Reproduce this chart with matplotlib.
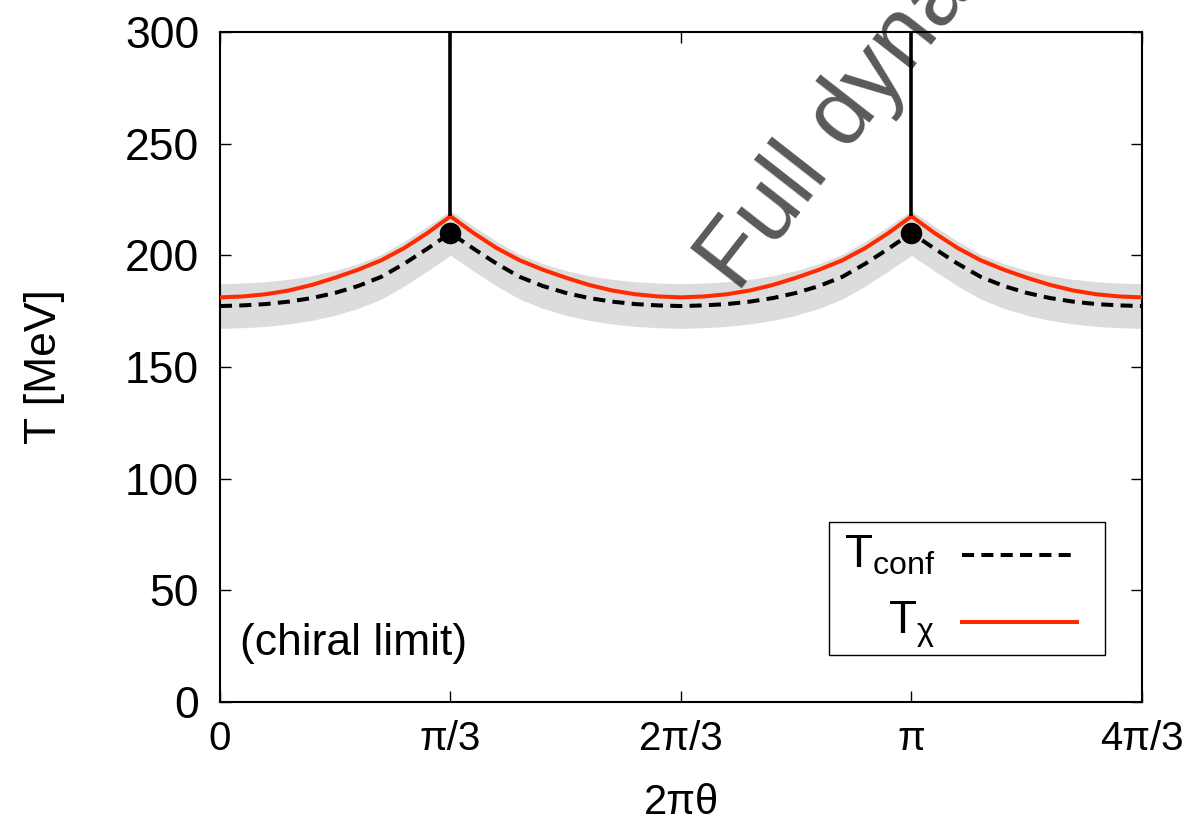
import numpy as np
import matplotlib
matplotlib.use("Agg")
import matplotlib.pyplot as plt
from matplotlib.patches import Rectangle
from matplotlib.lines import Line2D

plt.rcParams['font.family'] = ['Liberation Sans', 'DejaVu Sans']
plt.rcParams['mathtext.fontset'] = 'custom'
plt.rcParams['mathtext.rm'] = 'Liberation Sans'
plt.rcParams['mathtext.it'] = 'Liberation Sans:italic'

# x grid in units of pi/3 (0 .. 4)
x_units = np.round(np.arange(0, 4.0001, 0.1), 2)

# T_conf (dashed)
T_conf = [177.3, 177.6, 178.2, 179.3, 180.9, 183.2, 186.3, 190.4, 196.3, 203.0, 210.0,
          203.0, 196.3, 190.4, 186.3, 183.2, 180.9, 179.3, 178.2, 177.6, 177.3,
          177.6, 178.2, 179.3, 180.9, 183.2, 186.3, 190.4, 196.3, 203.0, 210.0,
          203.0, 196.3, 190.4, 186.3, 183.2, 180.9, 179.3, 178.2, 177.6, 177.3]
T_conf_err = 10.0

# T_chi (red solid)
T_chi = [181.2, 181.6, 182.6, 184.3, 186.8, 190.0, 193.6, 197.8, 203.3, 210.0, 217.5,
         210.0, 203.3, 197.8, 193.6, 190.0, 186.8, 184.3, 182.6, 181.6, 181.2,
         181.6, 182.6, 184.3, 186.8, 190.0, 193.6, 197.8, 203.3, 210.0, 217.5,
         210.0, 203.3, 197.8, 193.6, 190.0, 186.8, 184.3, 182.6, 181.6, 181.2]

# critical points (dots) and vertical lines
crit_units = [1, 3]
crit_T = [210.0, 210.0]
vline_bottom = [217.5, 217.5]

xtick_units = [0, 1, 2, 3, 4]
xtick_labels = ['0', 'π/3', '2π/3', 'π', '4π/3']
yticks = [0, 50, 100, 150, 200, 250, 300]

x = x_units * np.pi / 3
conf = np.array(T_conf)

fig = plt.figure(figsize=(11.87, 8.30), dpi=100)
ax = fig.add_axes([0.1853, 0.1542, 0.9621 - 0.1853, 0.9614 - 0.1542])

ax.fill_between(x, conf - T_conf_err, conf + T_conf_err, color='#dcdcdc', lw=0, zorder=1)
ax.plot(x, T_conf, color='black', lw=2.9, linestyle=(0, (3.0, 1.8)), zorder=2)
ax.plot(x, T_chi, color='#ff2a00', lw=2.9, zorder=3)
cx = np.array(crit_units) * np.pi / 3
ax.vlines(cx, vline_bottom, 300, color='black', lw=2.6, zorder=4)
ax.plot(cx, crit_T, 'o', color='black', ms=14.5, zorder=5)

ax.set_xlim(0, 4 * np.pi / 3)
ax.set_ylim(0, 300)
ax.set_xticks(np.array(xtick_units) * np.pi / 3)
ax.set_xticklabels(xtick_labels, fontsize=29)
ax.set_yticks(yticks)
ax.set_yticklabels([str(v) for v in yticks], fontsize=32)
ax.tick_params(direction='in', length=8, width=1.0, top=True, right=True)
ax.tick_params(axis='x', pad=13)
ax.tick_params(axis='y', pad=15)
for s in ax.spines.values():
    s.set_linewidth(1.5)

ax.set_xlabel('2πθ', fontsize=30)
ax.xaxis.set_label_coords(0.5, -0.151)
ax.xaxis.label.set_verticalalignment('center')
ax.set_ylabel('T [MeV]', fontsize=32)
ax.yaxis.set_label_coords(-0.19, 0.5)
ax.yaxis.label.set_verticalalignment('center')

ax.text(0.022, 0.07, '(chiral limit)', transform=ax.transAxes, fontsize=32,
        ha='left', va='baseline')

# legend (gnuplot style: label right-aligned, sample to the right)
ax.add_patch(Rectangle((0.660, 0.070), 0.300, 0.199, transform=ax.transAxes,
                       fill=False, lw=1.0, edgecolor='black', zorder=6))
ax.text(0.7755, 0.2015, r'$\mathregular{T_{conf}}$', transform=ax.transAxes,
        fontsize=33, ha='right', va='baseline', zorder=7)
ax.text(0.7755, 0.103, r'$\mathregular{T_{χ}}$', transform=ax.transAxes,
        fontsize=33, ha='right', va='baseline', zorder=7)
ax.add_line(Line2D([0.805, 0.929], [0.219, 0.219], transform=ax.transAxes,
                   color='black', lw=2.9, linestyle=(0, (3.0, 1.8)), zorder=7))
ax.add_line(Line2D([0.805, 0.929], [0.119, 0.119], transform=ax.transAxes,
                   color='#ff2a00', lw=2.9, zorder=7))

ax.text(0.561, 0.609, 'Full dynamics', transform=ax.transAxes, fontsize=68,
        rotation=52, rotation_mode='anchor', ha='left', va='baseline',
        color='black', alpha=0.65, clip_on=False, zorder=8)

fig.savefig('out.png', dpi=100)
